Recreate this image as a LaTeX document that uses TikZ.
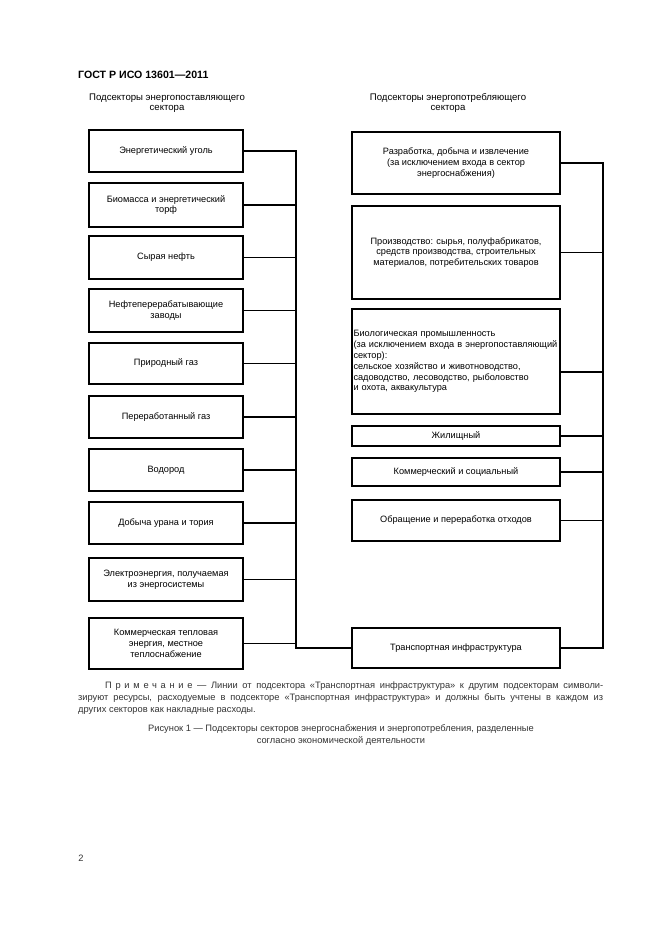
\documentclass[tikz,border=0pt]{standalone}
\usepackage{fontspec}
\setmainfont{Liberation Sans}
\newcommand\bxfont{\fontsize{9.2}{10.9}\selectfont}
\newcommand\hdfont{\fontsize{9.6}{10.6}\selectfont}
\newcommand\ntfont{\fontsize{9.3}{12}\selectfont}
\begin{document}
\begin{tikzpicture}[x=1pt,y=-1pt,
  lbox/.style={draw, line width=2.2pt, minimum width=154pt, align=center, font=\bxfont, inner sep=2pt},
  rbox/.style={draw, line width=2.2pt, minimum width=208pt, align=center, font=\bxfont, inner sep=2pt},
  conn/.style={line width=1.9pt, line join=miter},
  connthin/.style={line width=1.5pt},
  hd/.style={align=center, font=\hdfont, inner sep=0pt},
  txt/.style={inner sep=0pt, text=black!80}]
\useasboundingbox (0,0) rectangle (661,936);
\fill[white] (0,0) rectangle (661,936);

\node[anchor=west, font=\fontsize{10.6}{12}\selectfont\bfseries, inner sep=0pt] (title) at (78,75) {ГОСТ Р ИСО 13601—2011};

\node[hd] (hl) at (167,103) {Подсекторы энергопоставляющего\\сектора};
\node[hd] (hr) at (448,103) {Подсекторы энергопотребляющего\\сектора};

% left column
\node[lbox, minimum height=42pt] (l1) at (166,151) {Энергетический уголь};
\node[lbox, minimum height=44pt] (l2) at (166,205) {Биомасса и энергетический\\торф};
\node[lbox, minimum height=43pt] (l3) at (166,257.5) {Сырая нефть};
\node[lbox, minimum height=43pt] (l4) at (166,310.5) {Нефтеперерабатывающие\\заводы};
\node[lbox, minimum height=41pt] (l5) at (166,363.5) {Природный газ};
\node[lbox, minimum height=42pt] (l6) at (166,417) {Переработанный газ};
\node[lbox, minimum height=42pt] (l7) at (166,470) {Водород};
\node[lbox, minimum height=42pt] (l8) at (166,523) {Добыча урана и тория};
\node[lbox, minimum height=43pt] (l9) at (166,579.5) {Электроэнергия, получаемая\\из энергосистемы};
\node[lbox, minimum height=51pt] (l10) at (166,643.5) {Коммерческая тепловая\\энергия, местное\\теплоснабжение};

% right column
\node[rbox, minimum height=62pt] (r1) at (456,163) {Разработка, добыча и извлечение\\(за исключением входа в сектор\\энергоснабжения)};
\node[rbox, minimum height=93pt] (r2) at (456,252.5) {Производство: сырья, полуфабрикатов,\\средств производства, строительных\\материалов, потребительских товаров};
\node[rbox, minimum height=105pt, text width=205pt, align=left, inner sep=1.5pt] (r3) at (456,361.5) {Биологическая промышленность\\(за исключением входа в энергопоставляющий\\сектор):\\сельское хозяйство и животноводство,\\садоводство, лесоводство, рыболовство\\и охота, аквакультура};
\node[rbox, minimum height=20pt] (r4) at (456,436) {Жилищный};
\node[rbox, minimum height=28pt] (r5) at (456,472) {Коммерческий и социальный};
\node[rbox, minimum height=41pt] (r6) at (456,520.5) {Обращение и переработка отходов};
\node[rbox, minimum height=40pt] (tr) at (456,648) {Транспортная инфраструктура};

\coordinate (bl) at (296,0);
\coordinate (br) at (603,0);

% left bus
\draw[conn] (l1.east) -- (l1.east -| bl) -- (tr.west -| bl) -- (tr.west);
\draw[conn] (l2.east) -- (l2.east -| bl);
\draw[conn] (l3.east) -- (l3.east -| bl);
\draw[conn] (l4.east) -- (l4.east -| bl);
\draw[conn] (l5.east) -- (l5.east -| bl);
\draw[conn] (l6.east) -- (l6.east -| bl);
\draw[connthin] (l7.east) -- (l7.east -| bl);
\draw[conn] (l8.east) -- (l8.east -| bl);
\draw[connthin] (l9.east) -- (l9.east -| bl);
\draw[connthin] (l10.east) -- (l10.east -| bl);

% right bus
\draw[conn] (r1.east) -- (r1.east -| br) -- (tr.east -| br) -- (tr.east);
\draw[conn] (r2.east) -- (r2.east -| br);
\draw[connthin] ([yshift=-10.5pt]r3.east) -- ([yshift=-10.5pt]r3.east -| br);
\draw[connthin] (r4.east) -- (r4.east -| br);
\draw[conn] (r5.east) -- (r5.east -| br);
\draw[connthin] (r6.east) -- (r6.east -| br);

% note
\node[txt, anchor=north west, text width=525pt, align=justify, font=\ntfont] (note) at (78,682)
 {\hspace*{27pt}{\addfontfeature{LetterSpace=40}Примечание} — Линии от подсектора «Транспортная инфраструктура» к другим подсекторам символи-\linebreak
 зируют ресурсы, расходуемые в подсекторе «Транспортная инфраструктура» и должны быть учтены в каждом из\linebreak
 других секторов как накладные расходы.};

\node[txt, align=center, font=\ntfont] (cap) at (341,735.5)
 {Рисунок 1 — Подсекторы секторов энергоснабжения и энергопотребления, разделенные\\согласно экономической деятельности};

\node[txt, font=\ntfont] (pg) at (81,858) {2};
\end{tikzpicture}
\end{document}
